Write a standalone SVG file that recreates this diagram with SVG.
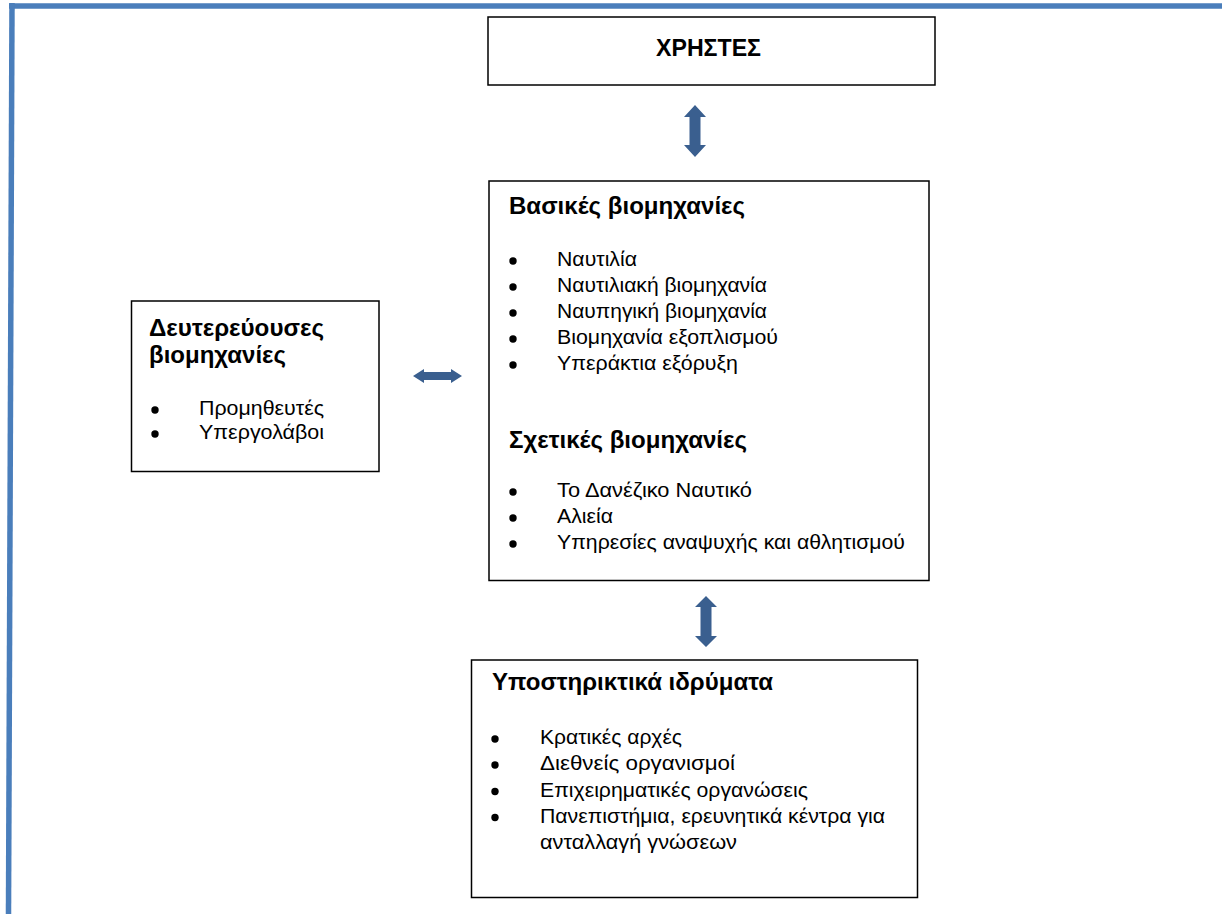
<svg xmlns="http://www.w3.org/2000/svg" width="1222" height="914" viewBox="0 0 1222 914">
<style>
.box{fill:#fff;stroke:#000;stroke-width:1.5}
.t{font-family:"Liberation Sans",Arial,sans-serif;font-size:20.5px;fill:#000}
.h{font-family:"Liberation Sans",Arial,sans-serif;font-size:23.5px;font-weight:bold;fill:#000}
.hc{font-family:"Liberation Sans",Arial,sans-serif;font-size:24px;font-weight:bold;fill:#000}
.b{fill:#000}
.arr{fill:#3A5F8F}
.frame{stroke:#4A7EBB;stroke-width:5.5;fill:none}
</style>
<g id="frame">
<line class="frame" x1="9" y1="6" x2="1222" y2="6"/>
<line class="frame" x1="12" y1="3" x2="8.5" y2="914"/>
</g>
<g id="users">
<rect class="box" x="488" y="17" width="447" height="68"/>
<text class="hc" x="656" y="56" textLength="105" lengthAdjust="spacingAndGlyphs">ΧΡΗΣΤΕΣ</text>
</g>
<g id="core">
<rect class="box" x="489" y="181" width="440" height="399.5"/>
<text class="h" x="509" y="213.5" textLength="236" lengthAdjust="spacingAndGlyphs">Βασικές βιομηχανίες</text>
<circle class="b" cx="513" cy="261" r="3.7"/><text class="t" x="557" y="266" textLength="80" lengthAdjust="spacingAndGlyphs">Ναυτιλία</text>
<circle class="b" cx="513" cy="287" r="3.7"/><text class="t" x="557" y="292" textLength="210" lengthAdjust="spacingAndGlyphs">Ναυτιλιακή βιομηχανία</text>
<circle class="b" cx="513" cy="313" r="3.7"/><text class="t" x="557" y="318" textLength="210" lengthAdjust="spacingAndGlyphs">Ναυπηγική βιομηχανία</text>
<circle class="b" cx="513" cy="339" r="3.7"/><text class="t" x="557" y="344" textLength="221" lengthAdjust="spacingAndGlyphs">Βιομηχανία εξοπλισμού</text>
<circle class="b" cx="513" cy="365" r="3.7"/><text class="t" x="557" y="370" textLength="181" lengthAdjust="spacingAndGlyphs">Υπεράκτια εξόρυξη</text>
<text class="h" x="509" y="447.5" textLength="238" lengthAdjust="spacingAndGlyphs">Σχετικές βιομηχανίες</text>
<circle class="b" cx="513" cy="492" r="3.7"/><text class="t" x="557" y="497" textLength="195" lengthAdjust="spacingAndGlyphs">Το Δανέζικο Ναυτικό</text>
<circle class="b" cx="513" cy="518" r="3.7"/><text class="t" x="557" y="523" textLength="56" lengthAdjust="spacingAndGlyphs">Αλιεία</text>
<circle class="b" cx="513" cy="544" r="3.7"/><text class="t" x="557" y="549" textLength="348" lengthAdjust="spacingAndGlyphs">Υπηρεσίες αναψυχής και αθλητισμού</text>
</g>
<g id="secondary">
<rect class="box" x="131.5" y="301" width="247.5" height="170.5"/>
<text class="h" x="149" y="335.5" textLength="175" lengthAdjust="spacingAndGlyphs">Δευτερεύουσες</text>
<text class="h" x="149" y="362.5" textLength="137" lengthAdjust="spacingAndGlyphs">βιομηχανίες</text>
<circle class="b" cx="155" cy="410" r="3.7"/><text class="t" x="199" y="415" textLength="125" lengthAdjust="spacingAndGlyphs">Προμηθευτές</text>
<circle class="b" cx="155" cy="434" r="3.7"/><text class="t" x="199" y="439" textLength="125" lengthAdjust="spacingAndGlyphs">Υπεργολάβοι</text>
</g>
<g id="support">
<rect class="box" x="471.5" y="660" width="446" height="237.5"/>
<text class="h" x="492" y="690" textLength="281" lengthAdjust="spacingAndGlyphs">Υποστηρικτικά ιδρύματα</text>
<circle class="b" cx="495" cy="739" r="3.7"/><text class="t" x="540" y="744" textLength="142" lengthAdjust="spacingAndGlyphs">Κρατικές αρχές</text>
<circle class="b" cx="495" cy="765" r="3.7"/><text class="t" x="540" y="770" textLength="195" lengthAdjust="spacingAndGlyphs">Διεθνείς οργανισμοί</text>
<circle class="b" cx="495" cy="791.5" r="3.7"/><text class="t" x="540" y="796.5" textLength="268" lengthAdjust="spacingAndGlyphs">Επιχειρηματικές οργανώσεις</text>
<circle class="b" cx="495" cy="817.5" r="3.7"/><text class="t" x="540" y="822.5" textLength="345" lengthAdjust="spacingAndGlyphs">Πανεπιστήμια, ερευνητικά κέντρα για</text>
<text class="t" x="540" y="848.5" textLength="197" lengthAdjust="spacingAndGlyphs">ανταλλαγή γνώσεων</text>
</g>
<g id="connectors">
<path class="arr" d="M695,105 L706,117 L700.5,117 L700.5,145 L706,145 L695,157 L684,145 L689.5,145 L689.5,117 L684,117 Z"/>
<path class="arr" d="M706,596 L717,607 L711.5,607 L711.5,636 L717,636 L706,647 L695,636 L700.5,636 L700.5,607 L695,607 Z"/>
<path class="arr" d="M413,376 L424,369 L424,372 L451,372 L451,369 L462,376 L451,383 L451,380 L424,380 L424,383 Z"/>
</g>
</svg>
